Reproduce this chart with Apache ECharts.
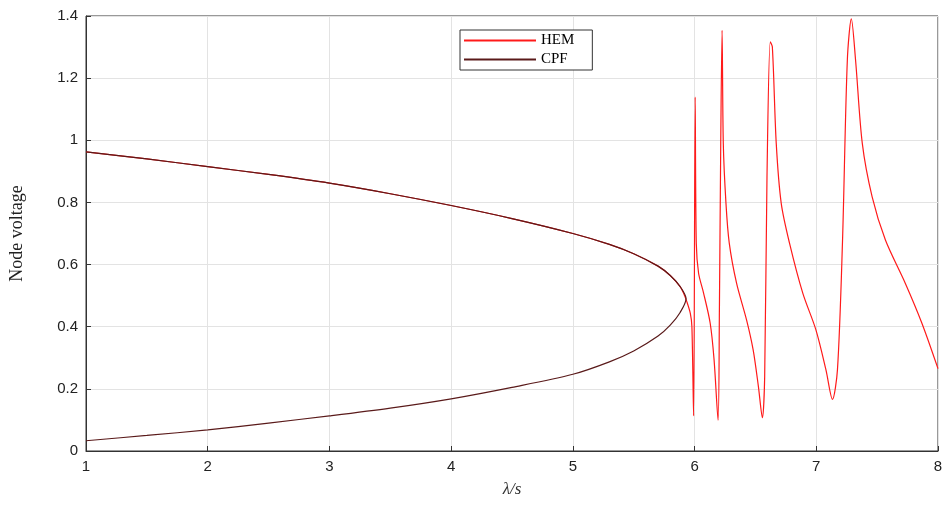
<!DOCTYPE html>
<html lang="en">
<head>
<meta charset="UTF-8">
<title>Node voltage</title>
<script src="https://cdn.jsdelivr.net/npm/echarts@6/dist/echarts.min.js"></script>
</head>
<body style="margin:0">
<div id="main" style="width:952px;height:509px;"></div>
<script type="text/javascript">
// CPF: upper branch then lower branch (lambda, voltage)
var cpfLambda = [1,1.5,2,2.5,3,3.5,4,4.5,5,5.3,5.5,5.7,5.8,5.88,5.93,5.88,5.8,5.7,5.5,5.3,5,4.5,4,3.5,3,2.5,2,1.5,1];
var cpfVolt   = [0.963,0.94,0.915,0.89,0.862,0.828,0.79,0.748,0.70,0.665,0.635,0.595,0.565,0.53,0.49,0.445,0.405,0.37,0.322,0.287,0.247,0.205,0.168,0.138,0.113,0.09,0.068,0.05,0.033];

// HEM
var hemLambda = [1,1.5,2,2.5,3,3.5,4,4.5,5,5.3,5.5,5.7,5.8,5.88,5.91,5.937,5.965,5.978,5.992,6.005,6.014,6.033,6.073,6.128,6.16,6.193,6.204,6.215,6.226,6.236,6.258,6.285,6.345,6.427,6.481,6.524,6.557,6.576,6.595,6.622,6.639,6.671,6.712,6.78,6.889,6.997,7.079,7.133,7.174,7.215,7.255,7.288,7.323,7.378,7.459,7.568,7.731,7.867,8];
var hemVolt   = [0.963,0.94,0.915,0.89,0.862,0.828,0.79,0.748,0.70,0.665,0.635,0.595,0.565,0.53,0.508,0.48,0.443,0.401,0.113,1.139,0.669,0.572,0.51,0.412,0.295,0.099,0.455,0.99,1.354,0.99,0.797,0.669,0.54,0.422,0.326,0.209,0.107,0.24,0.883,1.317,1.3,0.99,0.797,0.669,0.508,0.39,0.262,0.166,0.262,0.669,1.257,1.391,1.257,0.99,0.818,0.679,0.54,0.412,0.265];

function pairs(xs, ys) { return xs.map(function (x, i) { return [x, ys[i]]; }); }

var myChart = echarts.init(document.getElementById('main'));
var font = 'Liberation Sans';
var option = {
  animation: false,
  grid: { left: 83, right: 14, top: 16, bottom: 58, show: true, borderColor: '#333', borderWidth: 1 },
  legend: {
    top: 30, left: 460, orient: 'vertical', itemGap: 4,
    itemWidth: 72, itemHeight: 2, icon: 'rect',
    backgroundColor: '#fff', borderColor: '#333', borderWidth: 1, padding: [3, 18, 3, 4],
    textStyle: { fontFamily: 'Liberation Serif', fontSize: 15, color: '#000' },
    data: ['HEM', 'CPF']
  },
  xAxis: {
    type: 'value', min: 1, max: 8, interval: 1,
    name: 'λ/s', nameLocation: 'middle', nameGap: 30,
    nameTextStyle: { fontFamily: 'Liberation Serif', fontStyle: 'italic', fontSize: 17, color: '#333' },
    axisLine: { lineStyle: { color: '#333' } },
    axisTick: { inside: true, length: 5 },
    axisLabel: { fontFamily: font, fontSize: 15, color: '#222' },
    splitLine: { lineStyle: { color: '#e3e3e3' } }
  },
  yAxis: {
    type: 'value', min: 0, max: 1.4, interval: 0.2,
    name: 'Node voltage', nameLocation: 'middle', nameGap: 60, nameRotate: 90,
    nameTextStyle: { fontFamily: 'Liberation Serif', fontSize: 18, color: '#222' },
    axisLine: { lineStyle: { color: '#333' } },
    axisTick: { inside: true, length: 5 },
    axisLabel: { fontFamily: font, fontSize: 15, color: '#222', formatter: function (v) { return String(+v.toFixed(1)); } },
    splitLine: { lineStyle: { color: '#e3e3e3' } }
  },
  series: [
    { name: 'HEM', type: 'line', data: pairs(hemLambda, hemVolt), smooth: 0.3, showSymbol: false,
      lineStyle: { color: '#ff1a1a', width: 1.2 }, itemStyle: { color: '#ff1a1a' } },
    { name: 'CPF', type: 'line', data: pairs(cpfLambda, cpfVolt), smooth: 0.3, showSymbol: false,
      lineStyle: { color: '#5a1a1a', width: 1.2 }, itemStyle: { color: '#5a1a1a' } }
  ]
};
myChart.setOption(option);
</script>
</body>
</html>
